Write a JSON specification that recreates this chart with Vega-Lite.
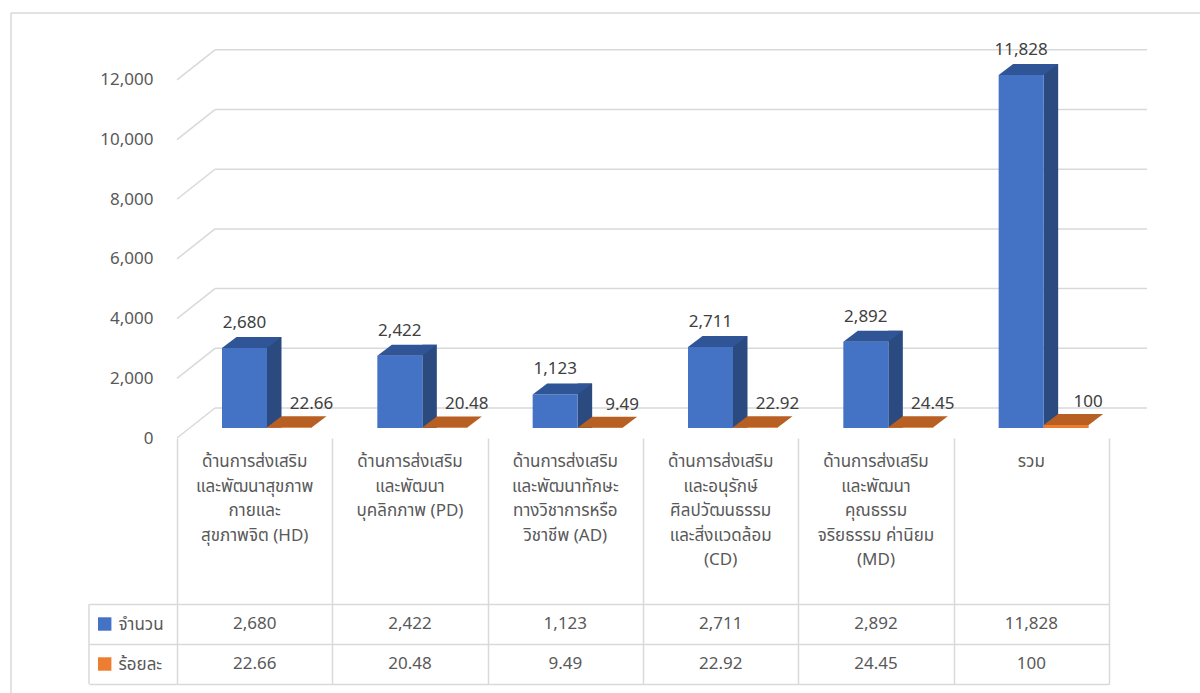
{
  "$schema": "https://vega.github.io/schema/vega-lite/v6.json",
  "padding": {"left": 10, "top": 12, "right": 0, "bottom": 0},
  "bounds": "flush",
  "spacing": 0,
  "background": "white",
  "config": {
    "view": {"stroke": null},
    "font": "Noto Sans Thai, Noto Sans, sans-serif",
    "text": {"font": "Noto Sans Thai, Noto Sans, sans-serif"},
    "style": {
      "barsY": {"labelPadding": 24, "labelFontSize": 17, "labelColor": "#595959", "labelFont": "Noto Sans Thai, Noto Sans, sans-serif", "domain": false, "ticks": false, "grid": false},
      "tableX": {"grid": true, "labels": false, "ticks": false, "domain": false, "gridColor": "#D9D9D9", "gridWidth": 1.5},
      "tableY": {"domain": false, "ticks": true, "tickSize": 88, "tickColor": "#D9D9D9", "tickWidth": 1.5, "grid": true, "gridColor": "#D9D9D9", "gridWidth": 1.5, "labelAlign": "left", "labelPadding": -29, "labelFontSize": 17, "labelColor": "#595959", "labelFont": "Noto Sans Thai, Noto Sans, sans-serif"}
    }
  },
  "datasets": {
    "main": [
      {"code": "HD", "label": "ด้านการส่งเสริม\nและพัฒนาสุขภาพ\nกายและ\nสุขภาพจิต (HD)", "จำนวน": 2680, "ร้อยละ": 22.66},
      {"code": "PD", "label": "ด้านการส่งเสริม\nและพัฒนา\nบุคลิกภาพ (PD)", "จำนวน": 2422, "ร้อยละ": 20.48},
      {"code": "AD", "label": "ด้านการส่งเสริม\nและพัฒนาทักษะ\nทางวิชาการหรือ\nวิชาชีพ (AD)", "จำนวน": 1123, "ร้อยละ": 9.49},
      {"code": "CD", "label": "ด้านการส่งเสริม\nและอนุรักษ์\nศิลปวัฒนธรรม\nและสิ่งแวดล้อม\n(CD)", "จำนวน": 2711, "ร้อยละ": 22.92},
      {"code": "MD", "label": "ด้านการส่งเสริม\nและพัฒนา\nคุณธรรม\nจริยธรรม ค่านิยม\n(MD)", "จำนวน": 2892, "ร้อยละ": 24.45},
      {"code": "รวม", "label": "รวม", "จำนวน": 11828, "ร้อยละ": 100}
    ],
    "grid": [{"v": 0}, {"v": 2000}, {"v": 4000}, {"v": 6000}, {"v": 8000}, {"v": 10000}, {"v": 12000}]
  },
  "vconcat": [
    {
      "width": 932,
      "height": 388,
      "data": {"name": "main"},
      "layer": [
        {
          "data": {"values": [{}]},
          "mark": {"type": "rule", "color": "#D9D9D9", "strokeWidth": 1.5, "xOffset": -166, "x2Offset": 100, "yOffset": -37},
          "encoding": {
            "x": {"datum": "HD", "type": "nominal", "bandPosition": 0, "scale": {"type": "band", "domain": ["HD", "PD", "AD", "CD", "MD", "รวม"], "paddingInner": 0, "paddingOuter": 0}, "axis": null},
            "x2": {"datum": "รวม", "bandPosition": 1},
            "y": {"datum": 13000, "type": "quantitative", "scale": {"domain": [0, 13000], "nice": false}, "axis": {"style": "barsY", "values": [0, 2000, 4000, 6000, 8000, 10000, 12000], "labelExpr": "format(datum.value, ',')", "title": null}}
          }
        },
        {
          "data": {"values": [{}]},
          "mark": {"type": "rule", "color": "#D9D9D9", "strokeWidth": 1.5, "xOffset": -166, "yOffset": -37},
          "encoding": {
            "x": {"datum": "HD", "type": "nominal", "bandPosition": 0, "axis": null},
            "y": {"datum": 13000, "type": "quantitative", "axis": {"style": "barsY", "values": [0, 2000, 4000, 6000, 8000, 10000, 12000], "labelExpr": "format(datum.value, ',')", "title": null}},
            "y2": {"datum": 0}
          }
        },
        {
          "data": {"name": "grid"},
          "mark": {"type": "rule", "color": "#D9D9D9", "strokeWidth": 1.5, "xOffset": 38, "x2Offset": 38, "yOffset": -30},
          "encoding": {
            "x": {"datum": "HD", "type": "nominal", "bandPosition": 0, "axis": null},
            "x2": {"datum": "รวม", "bandPosition": 1},
            "y": {"field": "v", "type": "quantitative", "axis": {"style": "barsY", "values": [0, 2000, 4000, 6000, 8000, 10000, 12000], "labelExpr": "format(datum.value, ',')", "title": null}}
          }
        },
        {
          "data": {"name": "grid"},
          "mark": {"type": "rule", "color": "#D9D9D9", "strokeWidth": 1.5, "x2Offset": 38, "y2Offset": -30},
          "encoding": {
            "x": {"datum": "HD", "type": "nominal", "bandPosition": 0, "axis": null},
            "x2": {"datum": "HD", "bandPosition": 0},
            "y": {"field": "v", "type": "quantitative", "axis": {"style": "barsY", "values": [0, 2000, 4000, 6000, 8000, 10000, 12000], "labelExpr": "format(datum.value, ',')", "title": null}},
            "y2": {"field": "v"}
          }
        },
        {
          "mark": {"type": "bar", "color": "#2A4A80", "width": 14.5, "xOffset": 19.58, "yOffset": -21, "y2Offset": -10},
          "encoding": {
            "x": {"field": "code", "type": "nominal", "axis": null},
            "y": {"field": "จำนวน", "type": "quantitative", "axis": {"style": "barsY", "values": [0, 2000, 4000, 6000, 8000, 10000, 12000], "labelExpr": "format(datum.value, ',')", "title": null}},
            "y2": {"datum": 0}
          }
        },
        {
          "mark": {"type": "bar", "color": "#4472C4", "width": 45, "xOffset": -10.17, "yOffset": -10, "y2Offset": -10},
          "encoding": {
            "x": {"field": "code", "type": "nominal", "axis": null},
            "y": {"field": "จำนวน", "type": "quantitative", "axis": {"style": "barsY", "values": [0, 2000, 4000, 6000, 8000, 10000, 12000], "labelExpr": "format(datum.value, ',')", "title": null}},
            "y2": {"datum": 0}
          }
        },
        {
          "mark": {"type": "point", "shape": "M-32.67,0L-18.17,-11L26.83,-11L12.33,0Z", "size": 4, "filled": true, "opacity": 1, "color": "#2F5597", "strokeWidth": 0, "yOffset": -10},
          "encoding": {
            "x": {"field": "code", "type": "nominal", "axis": null},
            "y": {"field": "จำนวน", "type": "quantitative", "axis": {"style": "barsY", "values": [0, 2000, 4000, 6000, 8000, 10000, 12000], "labelExpr": "format(datum.value, ',')", "title": null}}
          }
        },
        {
          "mark": {"type": "bar", "color": "#ED7D31", "width": 45, "xOffset": 34.83, "yOffset": -10, "y2Offset": -10},
          "encoding": {
            "x": {"field": "code", "type": "nominal", "axis": null},
            "y": {"field": "ร้อยละ", "type": "quantitative", "axis": {"style": "barsY", "values": [0, 2000, 4000, 6000, 8000, 10000, 12000], "labelExpr": "format(datum.value, ',')", "title": null}},
            "y2": {"datum": 0}
          }
        },
        {
          "mark": {"type": "point", "shape": "M12.33,0L26.83,-11L71.83,-11L57.33,0Z", "size": 4, "filled": true, "opacity": 1, "color": "#B85F23", "strokeWidth": 0, "yOffset": -10},
          "encoding": {
            "x": {"field": "code", "type": "nominal", "axis": null},
            "y": {"field": "ร้อยละ", "type": "quantitative", "axis": {"style": "barsY", "values": [0, 2000, 4000, 6000, 8000, 10000, 12000], "labelExpr": "format(datum.value, ',')", "title": null}}
          }
        },
        {
          "mark": {"type": "text", "xOffset": -10.17, "yOffset": -35, "fontSize": 17, "color": "#404040", "baseline": "middle"},
          "encoding": {
            "x": {"field": "code", "type": "nominal", "axis": null},
            "y": {"field": "จำนวน", "type": "quantitative", "axis": {"style": "barsY", "values": [0, 2000, 4000, 6000, 8000, 10000, 12000], "labelExpr": "format(datum.value, ',')", "title": null}},
            "text": {"field": "จำนวน", "type": "quantitative", "format": ","}
          }
        },
        {
          "mark": {"type": "text", "xOffset": 56.8, "yOffset": -33, "fontSize": 17, "color": "#404040", "baseline": "middle"},
          "encoding": {
            "x": {"field": "code", "type": "nominal", "axis": null},
            "y": {"field": "ร้อยละ", "type": "quantitative", "axis": {"style": "barsY", "values": [0, 2000, 4000, 6000, 8000, 10000, 12000], "labelExpr": "format(datum.value, ',')", "title": null}},
            "text": {"field": "ร้อยละ", "type": "quantitative", "format": ","}
          }
        }
      ]
    },
    {
      "width": 932,
      "height": 166,
      "data": {"name": "main"},
      "layer": [
        {
          "data": {"values": [{}]},
          "mark": {"type": "rule", "color": "#D9D9D9", "strokeWidth": 1.5, "xOffset": -166},
          "encoding": {
            "x": {"datum": "HD", "type": "nominal", "bandPosition": 0, "axis": {"style": "tableX", "tickBand": "extent", "title": null}}
          }
        },
        {
          "mark": {"type": "text", "baseline": "top", "dy": -67, "lineBreak": "\n", "lineHeight": 24.5, "fontSize": 17, "color": "#595959"},
          "encoding": {
            "x": {
              "field": "code", "type": "nominal",
              "scale": {"type": "band", "domain": ["HD", "PD", "AD", "CD", "MD", "รวม"], "paddingInner": 0, "paddingOuter": 0},
              "axis": {"style": "tableX", "tickBand": "extent", "title": null}
            },
            "text": {"field": "label"}
          }
        }
      ]
    },
    {
      "width": 932,
      "height": 80,
      "data": {"name": "main"},
      "layer": [
        {
          "data": {"values": [{}]},
          "mark": {"type": "rule", "color": "#D9D9D9", "strokeWidth": 1.5, "xOffset": -166, "y2Offset": 12},
          "encoding": {
            "x": {"datum": "HD", "type": "nominal", "bandPosition": 0, "scale": {"type": "band", "domain": ["HD", "PD", "AD", "CD", "MD", "รวม"], "paddingInner": 0, "paddingOuter": 0}, "axis": {"style": "tableX", "tickBand": "extent", "title": null}},
            "y": {"datum": "จำนวน", "type": "nominal", "bandPosition": 0, "scale": {"type": "band", "domain": ["จำนวน", "ร้อยละ"], "paddingInner": 0, "paddingOuter": 0}, "axis": {"style": "tableY", "tickBand": "extent", "title": null}},
            "y2": {"datum": "ร้อยละ", "bandPosition": 1}
          }
        },
        {
          "data": {"values": [{}]},
          "mark": {"type": "rule", "color": "#D9D9D9", "strokeWidth": 1.5, "xOffset": -88},
          "encoding": {
            "x": {"datum": "HD", "type": "nominal", "bandPosition": 0, "axis": {"style": "tableX", "tickBand": "extent", "title": null}}
          }
        },
        {
          "transform": [{"fold": ["จำนวน", "ร้อยละ"], "as": ["row", "value"]}, {"filter": "datum.code === 'HD'"}],
          "mark": {"type": "point", "shape": "square", "size": 180, "filled": true, "opacity": 1, "strokeWidth": 0, "xOffset": -72.3},
          "encoding": {
            "x": {"datum": "HD", "type": "nominal", "bandPosition": 0, "axis": {"style": "tableX", "tickBand": "extent", "title": null}},
            "y": {"field": "row", "type": "nominal", "axis": {"style": "tableY", "tickBand": "extent", "title": null}},
            "color": {"field": "row", "type": "nominal", "scale": {"domain": ["จำนวน", "ร้อยละ"], "range": ["#4472C4", "#ED7D31"]}, "legend": null}
          }
        },
        {
          "transform": [{"fold": ["จำนวน", "ร้อยละ"], "as": ["row", "value"]}],
          "mark": {"type": "text", "fontSize": 17, "color": "#595959", "baseline": "middle"},
          "encoding": {
            "x": {"field": "code", "type": "nominal", "axis": {"style": "tableX", "tickBand": "extent", "title": null}},
            "y": {"field": "row", "type": "nominal", "axis": {"style": "tableY", "tickBand": "extent", "title": null}},
            "text": {"field": "value", "type": "quantitative", "format": ","}
          }
        }
      ]
    }
  ]
}
